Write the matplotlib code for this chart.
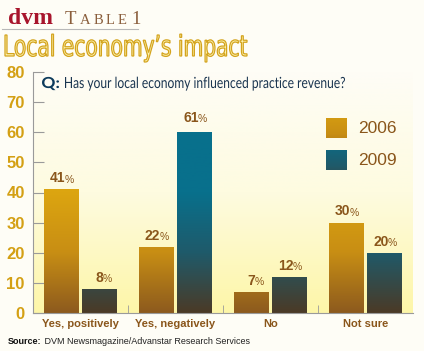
import numpy as np
import matplotlib
matplotlib.use("Agg")
import matplotlib.pyplot as plt
from matplotlib.colors import LinearSegmentedColormap
from matplotlib.patches import Rectangle, PathPatch
from matplotlib.textpath import TextPath
from matplotlib.font_manager import FontProperties
from matplotlib.transforms import Affine2D

# data
categories = ["Yes, positively", "Yes, negatively", "No", "Not sure"]
years = ["2006", "2009"]
vals_2006 = [41, 22, 7, 30]
vals_2009 = [8, 61, 12, 20]

gold_cmap = LinearSegmentedColormap.from_list("gold", ["#8c5a1e", "#c88e14", "#dca510", "#dca510"])
teal_cmap = LinearSegmentedColormap.from_list("teal", ["#4b3a26", "#1f5a6a", "#08708c", "#08708c"])
label_col = "#8a561b"
W, H = 424, 351

fig = plt.figure(figsize=(W / 100, H / 100), dpi=100)
fig.patch.set_facecolor("#fefdf6")
ax = fig.add_axes([33/W, 38/H, 380/W, 241/H])
ax.set_facecolor("none")

# panel background gradient (cream at top -> yellow at bottom)
bg = LinearSegmentedColormap.from_list("bg", ["#fdf6a8", "#fefbe0", "#fefdf6"])
ax.imshow(np.linspace(0, 1, 256).reshape(-1, 1), cmap=bg, aspect="auto",
          extent=[0, 1, 0, 1], transform=ax.transAxes, origin="lower", zorder=0)

x = np.arange(len(categories))
w = 0.36
grad = np.linspace(0, 1, 256).reshape(-1, 1)


def grad_bars(xs, vals, cmap):
    bars = ax.bar(xs, vals, w, color="none", edgecolor="none", zorder=2)
    for b in bars:
        im = ax.imshow(grad, cmap=cmap, aspect="auto", origin="lower",
                       extent=[-1, 5, 0, 60], zorder=2)
        im.set_clip_path(b)
    return bars


b1 = grad_bars(x - 0.205, vals_2006, gold_cmap)
b2 = grad_bars(x + 0.2, vals_2009, teal_cmap)


def pct_label(xc, v):
    ax.annotate(str(v), (xc, v), xytext=(3, 3), textcoords="offset points",
                ha="right", va="bottom", fontsize=10, fontweight="bold",
                color=label_col, family="Liberation Sans")
    ax.annotate("%", (xc, v), xytext=(2.5, 3.5), textcoords="offset points",
                ha="left", va="bottom", fontsize=7.5, color=label_col,
                family="Liberation Sans")


for xi, v in zip(x - 0.205, vals_2006):
    pct_label(xi, v)
for xi, v in zip(x + 0.2, vals_2009):
    pct_label(xi, v)

ax.set_xlim(-0.5, 3.5)
ax.set_ylim(0, 80)
ax.set_yticks(range(0, 81, 10))
ax.tick_params(axis="y", direction="in", length=8, color="#9a9a9a", pad=6,
               labelsize=12, labelcolor="#d4a014")
for t in ax.get_yticklabels():
    t.set_fontweight("bold")
    t.set_family("Liberation Sans")
ax.set_xticks(x)
ax.set_xticklabels(categories, fontsize=8, fontweight="bold", color=label_col,
                   family="Liberation Sans")
ax.tick_params(axis="x", length=0, pad=4)
ax.set_xticks([0.5, 1.5, 2.5], minor=True)
ax.tick_params(axis="x", which="minor", direction="in", length=6, color="#9a9a9a")
for s in ["top", "right"]:
    ax.spines[s].set_visible(False)
ax.spines["left"].set_color("#9a9a9a")
ax.spines["bottom"].set_color("#9a9a9a")

# legend swatches
for i, (yr, cm) in enumerate(zip(years, [gold_cmap, teal_cmap])):
    y0 = 0.727 - i * 0.133
    r = Rectangle((0.77, y0), 0.055, 0.083, transform=ax.transAxes,
                  facecolor="none", edgecolor="none")
    ax.add_patch(r)
    im = ax.imshow(grad, cmap=cm, aspect="auto", origin="lower",
                   extent=[0.77, 0.825, y0 - 0.1, y0 + 0.25],
                   transform=ax.transAxes, zorder=3)
    im.set_clip_path(r)
    ax.text(0.855, y0 + 0.04, yr, transform=ax.transAxes, fontsize=12.5,
            color=label_col, va="center", ha="left", family="Liberation Sans")


def path_text(s, x_left, y_base, cap_h, width, family, weight, face, edge=None, lw=0):
    # text drawn as a path so it can be squeezed to the reference width
    fp = FontProperties(family=family, weight=weight)
    tp = TextPath((0, 0), s, size=100, prop=fp)
    hh = TextPath((0, 0), "H", size=100, prop=fp).get_extents().height
    ext = tp.get_extents()
    sx = width / ext.width
    sy = cap_h / hh
    tr = Affine2D().translate(-ext.x0, 0).scale(sx, sy).translate(x_left, H - y_base)
    p = PathPatch(tp, transform=tr, facecolor=face,
                  edgecolor=edge if edge else "none", lw=lw)
    fig.add_artist(p)


# header
fig.text(8/W, 1 - 24/H, "dvm", fontsize=17, fontweight="bold", color="#a8152c",
         family="Liberation Serif")
for ch, px, fs in [("T", 65, 13.5), ("A", 80, 10.5), ("B", 93.5, 10.5),
                   ("L", 106, 10.5), ("E", 118, 10.5), ("1", 131, 13.5)]:
    fig.text(px/W, 1 - 24/H, ch, fontsize=fs, color="#8a5e3c", family="Liberation Serif")
fig.add_artist(plt.Line2D([2/W, 138/W], [1 - 29/H, 1 - 29/H],
                          color="#b8b8b8", lw=0.8, transform=fig.transFigure))
path_text("Local economy\u2019s impact", 5, 56, 21, 242, "DejaVu Sans", "normal",
          "#fdf3b0", "#d4a41e", 0.9)

# question
path_text("Q:", 42, 88, 11, 17, "Lato", "bold", "#0d3b5c")
path_text("Has your local economy influenced practice revenue?", 65, 88, 11, 280,
          "Lato", "normal", "#1a3550")

# source
src = fig.text(8/W, 1 - 344/H, "Source:", fontsize=6.5, fontweight="bold", color="#111111",
               family="Liberation Sans")
plt.annotate(" DVM Newsmagazine/Advanstar Research Services", xy=(1, 0), xycoords=src,
             va="bottom", ha="left", fontsize=6.5, color="#222222", family="Liberation Sans",
             annotation_clip=False)

fig.savefig("out.png", dpi=100, facecolor=fig.get_facecolor())
